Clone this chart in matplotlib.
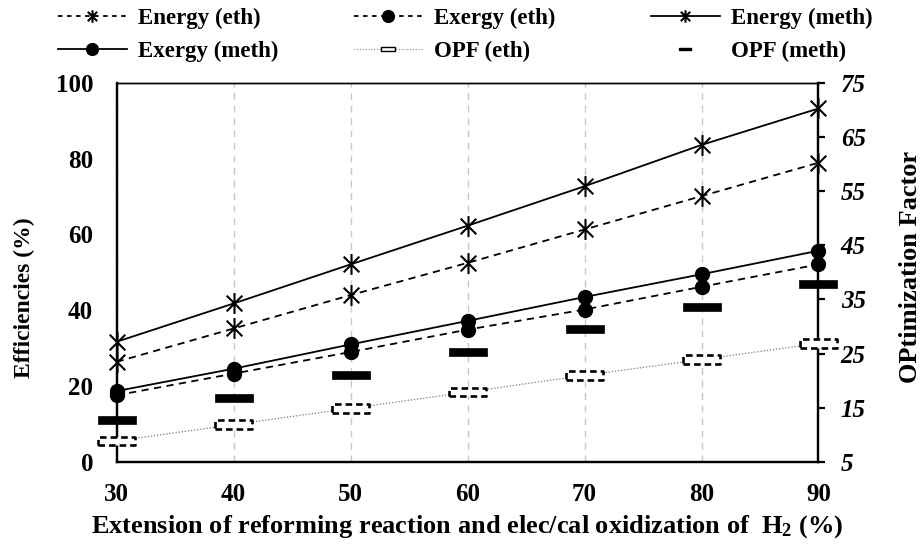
import matplotlib
matplotlib.use("Agg")
import matplotlib.pyplot as plt
from matplotlib.path import Path
from matplotlib.lines import Line2D

plt.rcParams['font.family'] = ['Liberation Serif', 'DejaVu Serif']
plt.rcParams['font.weight'] = 'bold'
plt.rcParams['mathtext.fontset'] = 'custom'
plt.rcParams['mathtext.rm'] = 'Liberation Serif'
plt.rcParams['mathtext.bf'] = 'Liberation Serif:bold'
plt.rcParams['mathtext.it'] = 'Liberation Serif:italic:bold'

# ---- data ----
x_vals = [30, 40, 50, 60, 70, 80, 90]
energy_meth = [31.7, 41.8, 52.1, 62.3, 72.7, 83.6, 93.2]
energy_eth = [26.4, 35.2, 44.0, 52.5, 61.3, 70.1, 78.9]
exergy_meth = [18.7, 24.6, 31.0, 37.2, 43.5, 49.5, 55.7]
exergy_eth = [17.6, 23.3, 29.0, 34.9, 40.2, 46.2, 52.1]
opf_meth = [12.7, 16.9, 21.1, 25.3, 29.5, 33.6, 37.8]
opf_eth = [8.9, 11.9, 14.9, 17.9, 21.0, 23.9, 26.9]
left_ticks = [0, 20, 40, 60, 80, 100]
right_ticks = [5, 15, 25, 35, 45, 55, 65, 75]

# ---- markers ----
ast_path = Path([(0, -1), (0, 1), (-0.75, -0.75), (0.75, 0.75), (-0.75, 0.75), (0.75, -0.75)],
                [Path.MOVETO, Path.LINETO, Path.MOVETO, Path.LINETO, Path.MOVETO, Path.LINETO])
rect_path = Path([(-1, -0.23), (1, -0.23), (1, 0.23), (-1, 0.23), (-1, -0.23)],
                 [Path.MOVETO, Path.LINETO, Path.LINETO, Path.LINETO, Path.CLOSEPOLY])

fig = plt.figure(figsize=(9.21, 5.47), dpi=100)
ax = fig.add_axes([0.1267, 0.1554, 0.8887 - 0.1267, 0.8488 - 0.1554])
ax2 = ax.twinx()

ax.plot(x_vals, energy_meth, color='black', lw=1.3, ls='-', marker=ast_path,
        ms=15, mfc='none', mec='black', mew=1.5, clip_on=False, zorder=3)
ax.plot(x_vals, energy_eth, color='black', lw=1.3, ls=(0, (4, 3)), marker=ast_path,
        ms=15, mfc='none', mec='black', mew=1.5, clip_on=False, zorder=3)
ax.plot(x_vals, exergy_meth, color='black', lw=1.3, ls='-', marker='o',
        ms=10, mfc='black', mec='black', clip_on=False, zorder=3)
ax.plot(x_vals, exergy_eth, color='black', lw=1.3, ls=(0, (4, 3)), marker='o',
        ms=10, mfc='black', mec='black', clip_on=False, zorder=3)

ax2.plot(x_vals, opf_eth, color='#777777', lw=0.9, ls=(0, (1, 1.5)), zorder=1)
ax2.scatter(x_vals, opf_eth, marker=rect_path, s=27 ** 2, facecolors='white',
            edgecolors='black', linewidths=1.9, linestyles=(0, (2.5, 1.5)),
            clip_on=False, zorder=3)
ax2.scatter(x_vals, opf_meth, marker=rect_path, s=27 ** 2, facecolors='black',
            edgecolors='black', linewidths=0.5, clip_on=False, zorder=3)

ax.set_xlim(30, 90)
ax.set_ylim(0, 100)
ax2.set_ylim(5, 75)
ax.set_xticks(x_vals)
ax.set_yticks(left_ticks)
ax2.set_yticks(right_ticks)

ax.grid(axis='x', color='#c8c8c8', ls=(0, (5, 4)), lw=1.0)
ax.set_axisbelow(True)

for a in (ax, ax2):
    for s in a.spines.values():
        s.set_linewidth(1.6)
    a.spines['top'].set_linewidth(1.0)

ax.tick_params(axis='x', length=0, pad=15, labelsize=18)
ax.tick_params(axis='y', length=0, pad=17, labelsize=18)
ax2.tick_params(axis='y', direction='out', length=5, width=1.6, pad=11, labelsize=18)
for lab in ax2.get_yticklabels():
    lab.set_fontstyle('italic')
    lab.set_fontweight('bold')

ax.set_xlabel(r'Extension of reforming reaction and elec/cal oxidization of  $\mathbf{H_2}$ (%)',
              fontsize=19, fontweight='bold')
ax.xaxis.set_label_coords(0.50, -0.171)
ax.xaxis.label.set_va('center')
ax.set_ylabel('Efficiencies (%)', fontsize=17, fontweight='bold')
ax.yaxis.set_label_coords(-0.131, 0.434)
ax.yaxis.label.set_va('center')
ax2.set_ylabel('OPtimization Factor', fontsize=19, fontweight='bold', rotation=90)
ax2.yaxis.set_label_coords(1.131, 0.514)
ax2.yaxis.label.set_va('center')

# ---- legend (three columns) ----
h_energy_eth = Line2D([], [], color='black', lw=1.3, ls=(0, (2.5, 2.5)), marker=ast_path,
                      ms=9, mfc='none', mec='black', mew=1.5)
h_exergy_eth = Line2D([], [], color='black', lw=1.3, ls=(0, (2.5, 2.5)), marker='o',
                      ms=8.5, mfc='black', mec='black')
h_energy_meth = Line2D([], [], color='black', lw=1.3, ls='-', marker=ast_path,
                       ms=9, mfc='none', mec='black', mew=1.5)
h_exergy_meth = Line2D([], [], color='black', lw=1.3, ls='-', marker='o',
                       ms=8.5, mfc='black', mec='black')
h_opf_eth = Line2D([], [], color='#888888', lw=0.8, ls=(0, (1, 1.5)), marker=rect_path,
                   ms=10, mfc='white', mec='black', mew=1.0)
h_opf_meth = Line2D([], [], color='black', lw=0, ls='none', marker=rect_path,
                    ms=9, mfc='black', mec='black')

cols = [
    ([h_energy_eth, h_exergy_meth], ['Energy (eth)', 'Exergy (meth)'], 58),
    ([h_exergy_eth, h_opf_eth], ['Exergy (eth)', 'OPF (eth)'], 354),
    ([h_energy_meth, h_opf_meth], ['Energy (meth)', 'OPF (meth)'], 651),
]
for hs, ls_, xpx in cols:
    leg = fig.legend(hs, ls_, loc='upper left', bbox_to_anchor=(xpx / 921, 1 - 8 / 547),
                     frameon=False, borderpad=0, borderaxespad=0, ncol=1,
                     handlelength=3.0, handletextpad=0.5, labelspacing=0.5,
                     prop={'family': 'Liberation Serif', 'weight': 'bold', 'size': 16.5})

fig.savefig('out.png', dpi=100)
